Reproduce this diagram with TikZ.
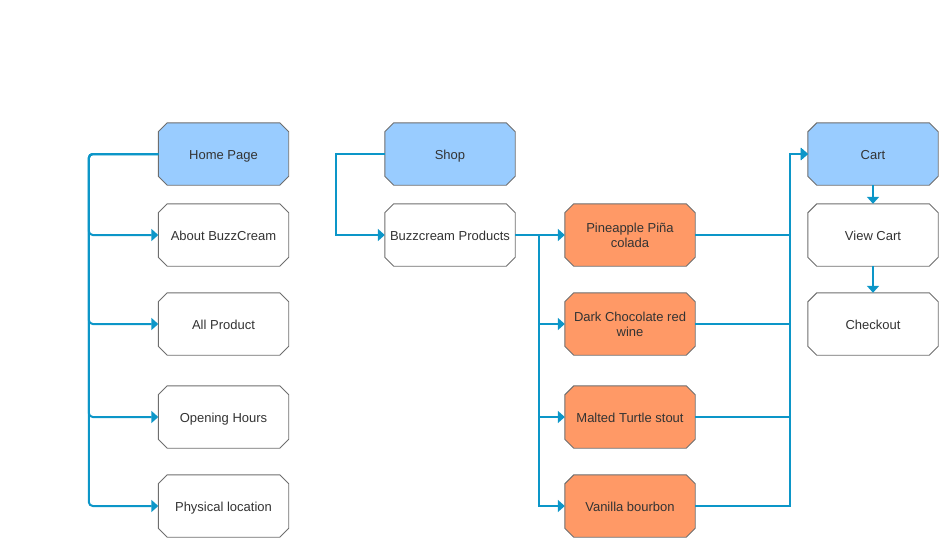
\documentclass[tikz,border=0pt]{standalone}
\usepackage{fontspec}
\setmainfont{Liberation Sans}
\usetikzlibrary{arrows.meta,backgrounds}
\definecolor{edgeblue}{RGB}{12,150,200}
\definecolor{hdrblue}{RGB}{153,204,255}
\definecolor{prodorange}{RGB}{255,153,102}
\definecolor{boxline}{RGB}{110,110,110}
\definecolor{txt}{RGB}{51,51,51}
\newcommand\octbox[2]{%
  \filldraw[fill=#2, draw=boxline, line width=0.9pt]
    ([xshift=9pt]#1.north west) -- ([xshift=-9pt]#1.north east)
    -- ([yshift=-9pt]#1.north east) -- ([yshift=9pt]#1.south east)
    -- ([xshift=-9pt]#1.south east) -- ([xshift=9pt]#1.south west)
    -- ([yshift=9pt]#1.south west) -- ([yshift=-9pt]#1.north west) -- cycle;}
\begin{document}
\begin{tikzpicture}[x=1pt,y=-1pt,
  box/.style={rectangle, minimum width=130pt, minimum height=62pt,
    inner sep=0pt, align=center, text=txt, font=\fontsize{13}{15}\selectfont},
  one/.style={box, text height=12pt, text depth=1.5pt},
  two/.style={box, yshift=-0.5pt},
  edge/.style={draw=edgeblue, line width=2pt, -{Triangle[length=7pt,width=12pt]}}
]
\useasboundingbox (0,0) rectangle (939,538);

\node[one] (home)  at (223.5,154) {Home Page};
\node[one] (about) at (223.5,235) {About BuzzCream};
\node[one] (all)   at (223.5,324) {All Product};
\node[one] (open)  at (223.5,417) {Opening Hours};
\node[one] (phys)  at (223.5,506) {Physical location};

\node[one] (shop)  at (450,154) {Shop};
\node[one] (bprod) at (450,235) {Buzzcream Products};

\node[box] (pine)  at (630,235) {Pineapple Piña\\colada};
\node[box] (dark)  at (630,324) {Dark Chocolate red\\wine};
\node[one] (malt)  at (630,417) {Malted Turtle stout};
\node[one] (van)   at (630,506) {Vanilla bourbon};

\node[one] (cart)  at (873,154) {Cart};
\node[one] (view)  at (873,235) {View Cart};
\node[one] (check) at (873,324) {Checkout};

\begin{scope}[on background layer]
  \foreach \n in {home,shop,cart} {\octbox{\n}{hdrblue}}
  \foreach \n in {about,all,open,phys,bprod,view,check} {\octbox{\n}{white}}
  \foreach \n in {pine,dark,malt,van} {\octbox{\n}{prodorange}}
\end{scope}

% Home Page bus
\foreach \t in {about,all,open,phys}
  \draw[edge, rounded corners=4pt] (home.west) -- ++(-69.5,0) |- (\t.west);

% Shop -> Buzzcream Products
\draw[edge] (shop.west) -- ++(-49,0) |- (bprod.west);

% Buzzcream Products -> products
\foreach \t in {pine,dark,malt,van}
  \draw[edge] (bprod.east) -- ++(24,0) |- (\t.west);

% products -> Cart
\foreach \s in {pine,dark,malt,van}
  \draw[edge] (\s.east) -- ++(95,0) |- (cart.west);

% Cart chain
\draw[edge] (cart.south) -- (view.north);
\draw[edge] (view.south) -- (check.north);
\end{tikzpicture}
\end{document}
